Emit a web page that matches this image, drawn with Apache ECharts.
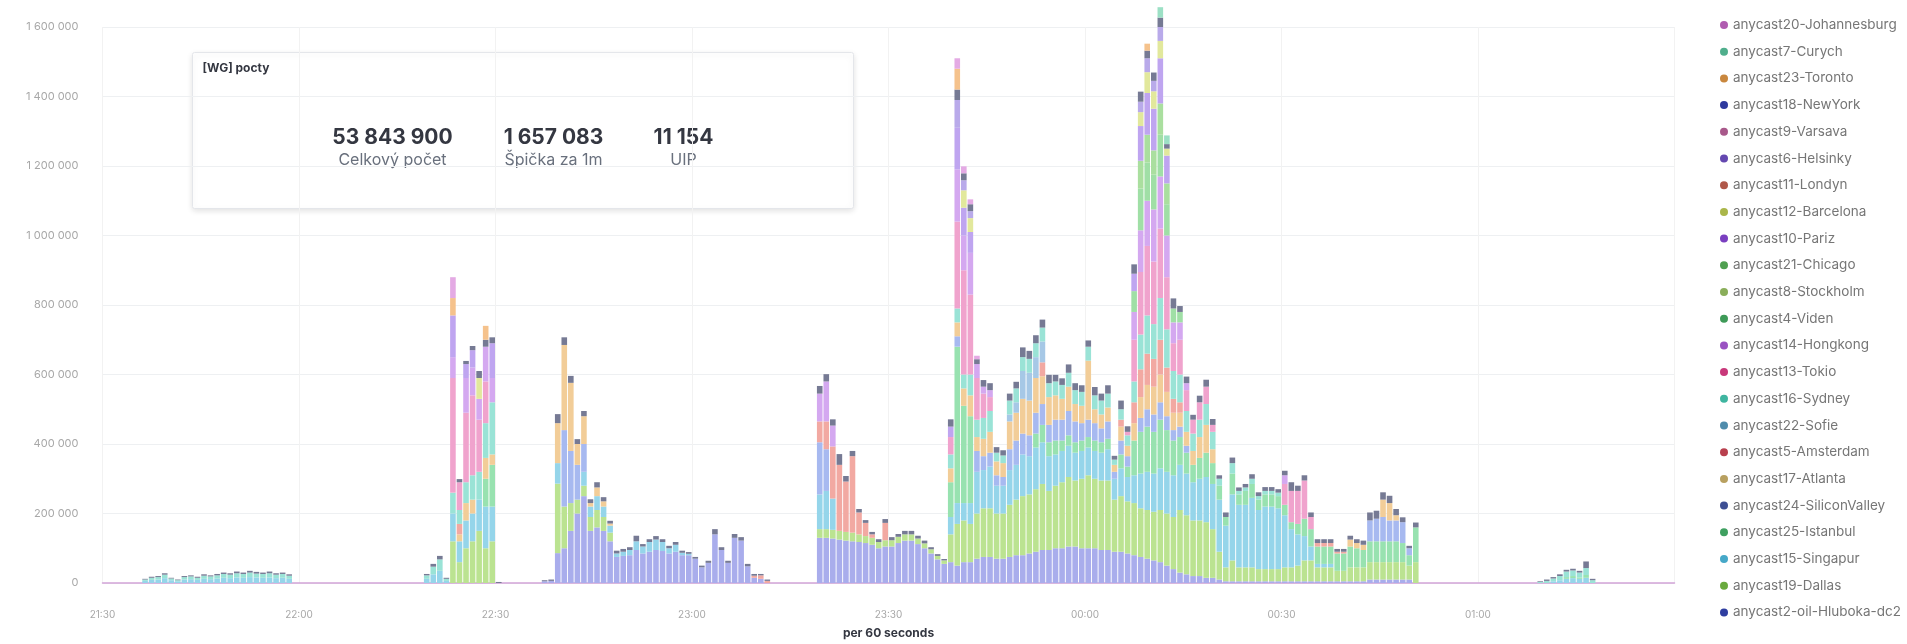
<!DOCTYPE html>
<html><head><meta charset="utf-8">
<script src="https://cdn.jsdelivr.net/npm/echarts@6/dist/echarts.min.js"></script>
<style>html,body{margin:0;padding:0;background:#fff;}#c{width:1907px;height:644px;}</style>
</head><body><div id="c"></div>
<script>
// x axis: minutes after 21:30, one bar per 60 seconds
const totalMinutes = 240;
const tickLabels = ['21:30','22:00','22:30','23:00','23:30','00:00','00:30','01:00'];
const tickEvery = 30; // minutes between tick labels
const yTicks = [0, 200000, 400000, 600000, 800000, 1000000, 1200000, 1400000, 1600000];
const valueUnit = 1000; // series values below are in thousands

// each run: [startMinute, value, value, ...] (consecutive minutes, thousands)
const hluboka = [
 [67, 5,6,86,100,150,200,250,150,160,150, 120,75,78,80,95,85,90,95,92,85, 90,80,80,70,45,58,140,95,58,130, 122,48,15,12],
 [109, 130,130,128,125,122,120,118,115,110,100, 105,105,115,122,122,112,100,85,68,55, 60,50,60,60,70,75,75,70,70,75, 80,80,85,90,95,95,100,100,105,105, 100,100,100,95,95,90,90,85,80,75, 70,65,60,50,40,30,25,20,20,15, 15,10,5,5,5,5,5,5,5,5, 5,5,5,5,5,5,5,5,5,5, 5,5,5,5,10,10,10,10,10,10, 10]
];
const dallas = [
 [53, 120,60,100,120,150,100,120],
 [69, 200,120,80,40,30,40,50,40,25],
 [109, 25,25,25,25,25,25,22,20,20,18, 18,18,18,18,18,16,14,12,10,10, 80,120,120,110,130,140,140,130,130,150, 160,170,170,180,190,170,180,190,200,190, 200,210,200,200,200,150,160,150,150,140, 140,140,150,150,150,180,170,160,160,160, 140,80,40,60,40,40,40,35,35,35, 35,40,40,45,60,60,40,40,40,30, 30,40,40,40,50,50,50,50,50,50, 40,60]
];
const singapur = [
 [6, 6,9,10,14,8,5,10,11,9,12,11,13,15,14,16,15,17,16,15,16,14,15,12],
 [49, 12,25,35,6,80,60,80,80,90,120,100],
 [69, 59,0,0,0,40,30,40,30,20,10,12,15,25,20,28,30,26,15,20,7,4],
 [109, 100,110,90],
 [129, 50,60,50,60,120,110,120,80,80,100, 100,120,110,120,120,100,90,90,90,80, 80,80,80,80,90,60,80,70,80,100, 110,110,120,120,120,130,120,110,120,130, 130,150,120,190,180,180,200,170,180,180, 175,150,110,90,70,40,10,10,10],
 [221, 5,8,12,14,12,15]
];
const istanbul = [
 [58, 80,120],
 [129, 100,450,280,250],
 [142, 40,50,40,40,30,30,30,30,30,30,30,30, 0,40,30, 100,120,130,120,140,120,100,80,60,50, 60,70,60,40,25,60,30,40,40,30, 35,35,35,30,20,30,50,50,50,50, 50,50,50,60,55,50,60,60,60,60, 60,55,30,100],
 [223, 5,6,4,8]
];
const siliconValley = [
 [70, 220,150,100,80],
 [109, 150,120],
 [130, 30],
 [133, 60,40,40,30,25,60,70,60,60,60, 60,50,60,60,70,60,50,50,50,40, 50,20,40,30,0,40,50,50,50,40, 30,30,20],
 [193, 60,65,70,60,60,60,20]
];
const atlanta = [
 [54, 20,50,40,0,60,30],
 [69, 115,245,196,60,80,10,25,15,6],
 [129, 40,40,50,60,40,50,60,40,40,80, 80,100,100,100,80,80,70,60,70,50, 50,170,40,40,40,20,40,30,50,60, 70,80,80,70,50,40,40,40,60,80, 40],
 [190, 20,15,15,0,0,50,50,15]
];
const amsterdam = [
 [54, 30], [99, 6,10,6],
 [109, 60,80,150,190,145,220,63,38,10,0,50],
 [143, 40], [155, 20],
 [157, 60,80,90,80,100,70,40,30],
 [185, 10,10,10,5,5]
];
const sofie = [[138, 20,30,80,80,60,60]];
const sydney = [
 [6, 4,6,7,10,5,3,7,8,6,9,8,9,11,10,12,11,13,11,11,12,10,11,9],
 [49, 10,22,33,6,60,40,60,70,80,100,150],
 [129, 40,40,40,60,50,60,60,25,22,40, 40,40,40,40,40,40,40,40,40,40, 40,40,40,40,40,15,30,30,60,100, 110,100,120,110,80,80,60,50,50,60, 50,20,0,30,10,10,15,10,10,10, 10],
 [219, 3,6,8,12,16,16,14,20,8]
];
const tokio = [
 [53, 330,80,200,230,150,120],
 [129, 50,250,300,230,120,70,40],
 [156, 10,120,180,200,180,200,150,80,100,60,40,50,50,20],
 [180, 60,90,95,110,35]
];
const hongkong = [
 [53, 60,0,100,80,60,100,70],
 [109, 80,115,60],
 [130, 150,100,120,40,20,20],
 [157, 80,120,130,150,150,120,60,50,20],
 [180, 25]
];
const viden = [[157, 60,120,110,100,120,90,40,30]];
const stockholm = [];
const chicago = [[158, 80,80,70,90,60]];
const pariz = [[53, 120,0,40,50,0,0,100], [129, 30,120,80,60], [157, 50,100,120,120,130,80]];
const barcelona = [[57, 60], [131, 50,40], [158, 40,60,50,50,20]];
const londyn = [];
const helsinky = [[130, 80,29,20], [158, 30,40,30,40]];
const varsava = [];
const newYork = [
 [6, 2,3,3,4,2,2,3,3,3,4,3,4,4,4,5,4,5,5,4,5,4,4,4],
 [49, 4,8,10,3,0,9,9,12,20,20,17,3],
 [67, 3,4,26,22,20,14,15,11,15,12, 8,8,8,8,16,7,8,10,8,7, 8,6,5,5,5,6,15,8,6,11, 10,7,5,4,4],
 [109, 22,21,18,31,16,15,10,8,7,8, 11,9,8,10,10,8,8,6,5,4, 21,30,20,20,14,19,20,16,15,20, 19,28,23,23,23,24,19,19,24,20, 19,18,24,20,24,11,25,16,27,29, 22,24,27,13,29,17,19,14,19,20, 17,10,13,16,10,10,13,11,11,11, 10,13,25,15,15,13,11,11,11,8, 8,11,11,12,23,23,21,21,18,14, 7,14],
 [219, 2,4,4,5,5,5,5,19,4]
];
const toronto = [[53, 50], [58, 40], [130, 60], [159, 20]];
const curych = [[161, 30,25]];
const johannesburg = [[53, 60], [130, 30,20,14,10]];

// stack order, bottom to top
const seriesNames = ['anycast2-oil-Hluboka-dc2','anycast19-Dallas','anycast15-Singapur','anycast25-Istanbul','anycast24-SiliconValley','anycast17-Atlanta','anycast5-Amsterdam','anycast22-Sofie','anycast16-Sydney','anycast13-Tokio','anycast14-Hongkong','anycast4-Viden','anycast8-Stockholm','anycast21-Chicago','anycast10-Pariz','anycast12-Barcelona','anycast11-Londyn','anycast6-Helsinky','anycast9-Varsava','anycast18-NewYork','anycast23-Toronto','anycast7-Curych','anycast20-Johannesburg'];
const seriesRuns = [hluboka,dallas,singapur,istanbul,siliconValley,atlanta,amsterdam,sofie,sydney,tokio,hongkong,viden,stockholm,chicago,pariz,barcelona,londyn,helsinky,varsava,newYork,toronto,curych,johannesburg];
const barColors = ['#a9adec','#bbe391','#95d5ea','#98e2b0','#a7b9f0','#f2cd98','#f2a9a2','#a6c8e6','#9ae3d6','#f0a3cd','#d4a8f0','#a0dfa6','#c8e0a2','#aadf9f','#bfa5f0','#e2e89c','#e9b2a6','#b9aaea','#e1aaca','#767a94','#f5c28c','#9ce0c5','#e4aae4'];
const dotColors = ['#2f3ea0','#6aaa3e','#46a8c8','#3fa060','#3e5094','#b8a060','#b8404e','#4f8cac','#3fb5a0','#c8387a','#9a52c2','#3e9a58','#8aae5a','#4fa050','#7a3fc0','#aab64a','#b0584a','#6448b0','#a8588a','#2f3a9e','#c9873e','#4fae8c','#b05cb0'];

function expand(runs) {
  const arr = new Array(totalMinutes).fill(0);
  runs.forEach(r => { for (let i = 1; i < r.length; i++) arr[r[0] + i - 1] = r[i] * valueUnit; });
  return arr;
}
function fmtNum(v) { return String(v).replace(/\B(?=(\d{3})+(?!\d))/g, ' '); }

const minuteCats = Array.from({ length: totalMinutes }, (_, m) => String(m));
const FONT = 'Inter, "Noto Sans", sans-serif';
const series = seriesNames.map((name, k) => ({
  name, type: 'bar', stack: 'all', barWidth: 5.6, clip: false,
  itemStyle: { color: barColors[k] },
  emphasis: { disabled: true },
  data: expand(seriesRuns[k])
}));

const chart = echarts.init(document.getElementById('c'));
chart.setOption({
  animation: false,
  textStyle: { fontFamily: FONT },
  grid: { left: 102.5, right: 232.5, top: 27, bottom: 60, containLabel: false },
  xAxis: {
    type: 'category', data: minuteCats, boundaryGap: true,
    name: 'per 60 seconds', nameLocation: 'middle', nameGap: 44,
    nameTextStyle: { fontSize: 12, fontWeight: 'bold', color: '#343741', fontFamily: FONT },
    axisLine: { show: true, lineStyle: { color: '#d2a4d8', width: 1.5 } },
    axisTick: { show: false },
    axisLabel: { color: '#a8a8a8', fontSize: 10, margin: 27, padding: [0, 6.6, 0, 0],
      interval: (i) => i % tickEvery === 0,
      formatter: (v, i) => tickLabels[Math.round(i / tickEvery)] || '' },
    splitLine: { show: true, interval: (i) => i % tickEvery === 0, lineStyle: { color: '#f2f2f2' } }
  },
  yAxis: {
    type: 'value', min: yTicks[0], max: yTicks[yTicks.length - 1], interval: yTicks[1] - yTicks[0],
    axisLine: { show: false }, axisTick: { show: false },
    axisLabel: { color: '#a8a8a8', fontSize: 11, margin: 24, formatter: v => fmtNum(v) },
    splitLine: { lineStyle: { color: '#eef0f2' } }
  },
  legend: {
    orient: 'vertical', left: 1715, top: 12, icon: 'circle',
    itemWidth: 8, itemHeight: 8, itemGap: 10.7, selectedMode: false,
    textStyle: { fontSize: 13.5, color: '#767676', lineHeight: 16, fontFamily: FONT },
    data: seriesNames.map((n, k) => ({ name: n, itemStyle: { color: dotColors[k] } })).reverse()
  },
  graphic: [{
    type: 'group', left: 192, top: 52,
    children: [
      { type: 'rect', shape: { x: 0, y: 0, width: 661, height: 156, r: 2 },
        style: { fill: '#fff', stroke: '#e4e6ea', lineWidth: 1, shadowBlur: 6, shadowOffsetY: 2, shadowColor: 'rgba(0,0,0,0.12)' } },
      { type: 'text', x: 10, y: 10, style: { text: '[WG] pocty', font: 'bold 12px ' + FONT, fill: '#343741' } },
      { type: 'text', x: 200, y: 85, style: { text: '53 843 900', font: 'bold 21px ' + FONT, fill: '#343741', textAlign: 'center', textVerticalAlign: 'middle' } },
      { type: 'text', x: 200, y: 108, style: { text: 'Celkový počet', font: '16px ' + FONT, fill: '#69707d', textAlign: 'center', textVerticalAlign: 'middle' } },
      { type: 'text', x: 361, y: 85, style: { text: '1 657 083', font: 'bold 21px ' + FONT, fill: '#343741', textAlign: 'center', textVerticalAlign: 'middle' } },
      { type: 'text', x: 361, y: 108, style: { text: 'Špička za 1m', font: '16px ' + FONT, fill: '#69707d', textAlign: 'center', textVerticalAlign: 'middle' } },
      { type: 'text', x: 491, y: 85, style: { text: '11 154', font: 'bold 21px ' + FONT, fill: '#343741', textAlign: 'center', textVerticalAlign: 'middle' } },
      { type: 'text', x: 491, y: 108, style: { text: 'UIP', font: '16px ' + FONT, fill: '#69707d', textAlign: 'center', textVerticalAlign: 'middle' } }
    ]
  }],
  series
});
</script></body></html>
